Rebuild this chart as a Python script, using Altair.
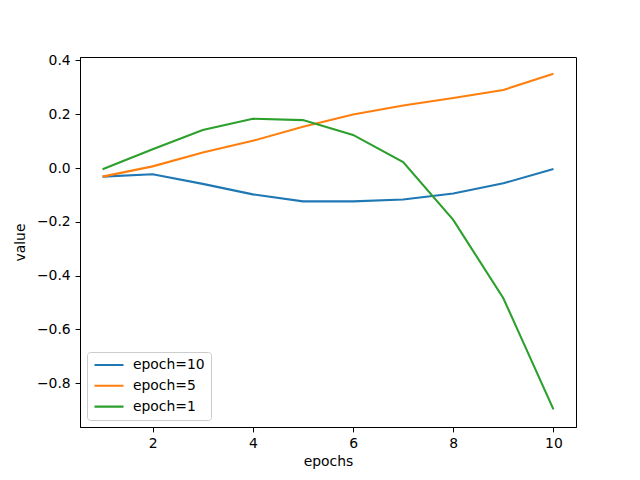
import altair as alt
import pandas as pd

epochs = [1, 2, 3, 4, 5, 6, 7, 8, 9, 10]
epoch10 = [-0.032, -0.023, -0.059, -0.098, -0.124, -0.124, -0.117, -0.095, -0.057, -0.004]
epoch5 = [-0.032, 0.006, 0.058, 0.101, 0.153, 0.199, 0.232, 0.260, 0.290, 0.350]
epoch1 = [-0.005, 0.070, 0.141, 0.183, 0.178, 0.123, 0.022, -0.193, -0.484, -0.897]

series_names = ["epoch=10", "epoch=5", "epoch=1"]
series_colors = ["#1f77b4", "#ff7f0e", "#2ca02c"]

rows = []
for name, vals in zip(series_names, [epoch10, epoch5, epoch1]):
    for e, v in zip(epochs, vals):
        rows.append({"epochs": e, "value": v, "series": name})
df = pd.DataFrame(rows)

FONT = "DejaVu Sans"

chart = (
    alt.Chart(df)
    .mark_line(strokeWidth=2.1)
    .encode(
        x=alt.X(
            "epochs:Q",
            scale=alt.Scale(domain=[0.55, 10.45], nice=False, zero=False),
            axis=alt.Axis(values=[2, 4, 6, 8, 10], format="d", title="epochs"),
        ),
        y=alt.Y(
            "value:Q",
            scale=alt.Scale(domain=[-0.9625, 0.4125], nice=False, zero=False),
            axis=alt.Axis(values=[-0.8, -0.6, -0.4, -0.2, 0.0, 0.2, 0.4], format=".1f", title="value"),
        ),
        color=alt.Color(
            "series:N",
            scale=alt.Scale(domain=series_names, range=series_colors),
            sort=series_names,
            legend=alt.Legend(
                title=None,
                orient="none",
                legendX=7,
                legendY=295,
                symbolType="stroke",
                symbolSize=841,
                symbolStrokeWidth=2.1,
                clipHeight=14,
                labelFont=FONT,
                labelFontSize=13.9,
                labelColor="black",
                labelOffset=8,
                rowPadding=6.8,
                padding=6,
                strokeColor="#cccccc",
                fillColor="rgba(255,255,255,0.8)",
                cornerRadius=3,
            ),
        ),
        detail="series:N",
    )
    .properties(
        width=496,
        height=370,
        background="white",
        autosize=alt.AutoSizeParams(type="none"),
        padding={"left": 80, "top": 57, "right": 64, "bottom": 53},
    )
    .configure_view(stroke="black", strokeWidth=1)
    .configure_axis(
        grid=False,
        domainColor="black",
        domainWidth=1,
        tickColor="black",
        tickSize=4.9,
        tickWidth=1,
        labelFont=FONT,
        labelFontSize=13.9,
        labelColor="black",
        labelPadding=4.9,
        titleFont=FONT,
        titleFontSize=13.9,
        titleFontWeight="normal",
        titleColor="black",
    )
    .configure_axisX(titlePadding=4)
    .configure_axisY(titlePadding=9)
)

chart.save("out.html", embed_options={"renderer": "svg", "actions": False})
